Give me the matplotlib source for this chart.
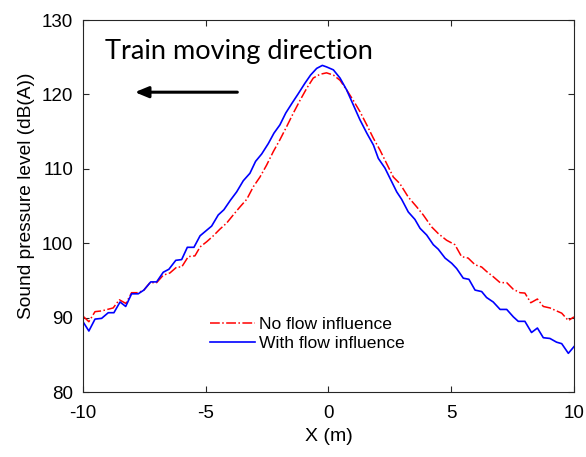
import matplotlib.pyplot as plt

# no flow influence (red, dash-dot)
x_no = [-10, -9.76, -9.51, -9.24, -8.77, -8.52, -8.25, -8.02, -7.75, -7.52, -7.27, -7.0,
        -6.73, -6.46, -6.18, -5.98, -5.71, -5.44, -5.23, -4.96, -4.69, -4.42, -4.15, -3.88,
        -3.6, -3.33, -3.06, -2.79, -2.52, -2.25, -1.98, -1.70, -1.43, -1.16, -0.89, -0.62,
        -0.35, -0.08, 0.2, 0.47, 0.74, 1.01, 1.28, 1.56, 1.83, 2.10, 2.37, 2.64, 2.91,
        3.25, 3.59, 3.86, 4.20, 4.47, 4.81, 5.15, 5.42, 5.69, 5.97, 6.24, 6.44, 6.71,
        6.99, 7.26, 7.53, 7.80, 8.0, 8.24, 8.51, 8.75, 9.02, 9.29, 9.50, 9.77, 10.0]
y_no = [90.2, 89.45, 90.8, 90.9, 91.3, 92.4, 91.9, 93.35, 93.35, 93.7, 94.7, 94.7,
        95.7, 96.0, 96.8, 96.8, 98.2, 98.3, 99.5, 100.2, 101.0, 101.9, 102.7, 103.8,
        104.9, 105.9, 107.6, 108.9, 110.5, 112.3, 113.9, 115.7, 117.5, 119.2, 120.8, 122.2,
        122.7, 122.9, 122.6, 121.9, 120.6, 119.2, 117.7, 115.9, 114.1, 112.5, 110.7, 108.9, 108.0,
        106.2, 104.9, 103.8, 102.2, 101.3, 100.4, 99.8, 98.2, 98.0, 97.1, 96.8, 96.2, 95.5,
        94.7, 94.7, 93.8, 93.35, 93.3, 92.0, 92.5, 91.5, 91.3, 90.9, 90.6, 89.6, 90.1]

# with flow influence (blue, solid)
x_with = [-10, -9.76, -9.51, -9.24, -8.97, -8.74, -8.49, -8.26, -8.02, -7.75, -7.52, -7.24,
          -7.0, -6.73, -6.5, -6.22, -5.98, -5.75, -5.48, -5.23, -4.76, -4.49, -4.26, -3.99,
          -3.74, -3.47, -3.2, -2.97, -2.72, -2.45, -2.22, -1.98, -1.74, -1.47, -1.23, -0.96,
          -0.73, -0.48, -0.25, -0.08, 0.2, 0.47, 0.74, 1.01, 1.28, 1.56, 1.83, 2.03, 2.30,
          2.51, 2.78, 2.98, 3.25, 3.52, 3.73, 4.0, 4.27, 4.47, 4.75, 5.02, 5.22, 5.49,
          5.72, 5.97, 6.24, 6.44, 6.71, 6.99, 7.26, 7.53, 7.73, 8.0, 8.27, 8.51, 8.75,
          9.02, 9.29, 9.50, 9.77, 10.0]
y_with = [89.45, 88.2, 89.8, 89.9, 90.66, 90.66, 92.1, 91.5, 93.2, 93.2, 93.7, 94.8,
          94.8, 96.1, 96.5, 97.7, 97.8, 99.45, 99.45, 101.0, 102.3, 103.8, 104.5, 105.8,
          106.9, 108.4, 109.4, 111.0, 112.0, 113.4, 114.8, 115.9, 117.5, 118.9, 120.1, 121.5,
          122.6, 123.5, 123.9, 123.7, 123.3, 122.2, 120.6, 118.6, 116.6, 114.8, 113.2, 111.4, 110.1,
          108.7, 106.9, 105.9, 104.2, 103.2, 102.0, 101.1, 99.8, 99.2, 98.0, 97.3, 96.6, 95.3,
          95.15, 93.7, 93.5, 92.7, 92.1, 91.1, 91.1, 90.1, 89.5, 89.5, 88.0, 88.6, 87.3,
          87.2, 86.7, 86.5, 85.2, 86.1]

xticks = [-10, -5, 0, 5, 10]
yticks = [80, 90, 100, 110, 120, 130]

plt.rcParams['font.family'] = ['Liberation Sans', 'DejaVu Sans']
plt.rcParams['axes.unicode_minus'] = False

fig = plt.figure(figsize=(5.86, 4.57), dpi=100)
ax = fig.add_axes([0.1416, 0.1422, 0.8379, 0.814])

ax.plot(x_no, y_no, color='#ff0000', linestyle='-.', linewidth=1.1, label='No flow influence')
ax.plot(x_with, y_with, color='#0000ff', linestyle='-', linewidth=1.2, label='With flow influence')

ax.set_xlim(-10, 10)
ax.set_ylim(80, 130)
ax.set_xticks(xticks)
ax.set_yticks(yticks)
ax.tick_params(direction='in', top=True, right=True, labelsize=13.5, length=4,
               color='#262626', width=0.8)
ax.tick_params(axis='y', pad=7)
ax.tick_params(axis='x', pad=9)
for s in ax.spines.values():
    s.set_color('#262626')
    s.set_linewidth(0.8)

ax.set_xlabel('X (m)', fontsize=14, labelpad=5)
ax.set_ylabel('Sound pressure level (dB(A))', fontsize=13.8)
ax.yaxis.set_label_coords(-0.098, 0.527)

ax.text(-9.1, 125.8, 'Train moving direction', fontsize=19.5, family=['Lato', 'DejaVu Sans'],
        va='center', ha='left')
ax.annotate('', xy=(-8.0, 120.3), xytext=(-3.6, 120.3),
            arrowprops=dict(arrowstyle='-|>,head_length=0.8,head_width=0.33',
                            color='black', lw=2.2))

ax.legend(loc='upper left', bbox_to_anchor=(0.226, 0.244), frameon=False, fontsize=12.6,
          handlelength=2.57, handletextpad=0.23, labelspacing=0.2, borderpad=0.4)

fig.savefig('out.png', dpi=100)
